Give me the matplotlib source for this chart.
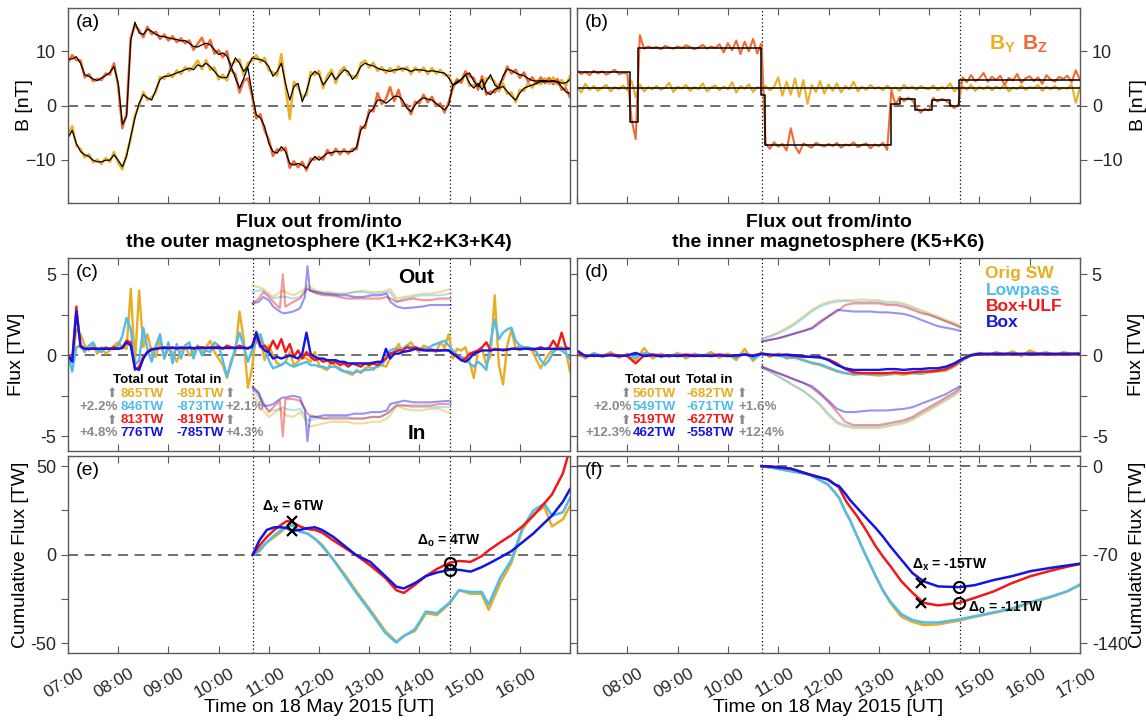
import numpy as np
import matplotlib
matplotlib.use("Agg")
import matplotlib.pyplot as plt
import matplotlib.transforms as mtransforms

plt.rcParams['font.family'] = ['Liberation Sans', 'DejaVu Sans']
plt.rcParams['mathtext.fontset'] = 'custom'
plt.rcParams['mathtext.rm'] = 'Liberation Sans'
plt.rcParams['mathtext.bf'] = 'Liberation Sans:bold'
plt.rcParams['mathtext.it'] = 'Liberation Sans:italic'

# ---------------- data (hours UT, 5-min samples from 07:00 unless noted) ----------------
# panel (a): IMF By / Bz, raw and smoothed
by_raw_a = [-5.5, -3.8, -7.4, -8.0, -9.6, -9.0, -10.5, -10.0, -10.8, -9.7, -10.4, -8.6,
            -10.6, -11.8, -8.9, -6.2, -1.8, 0.0, 2.5, 1.0, 1.5, 2.4, 5.3, 4.9,
            5.9, 5.2, 6.5, 5.8, 7.1, 6.4, 7.2, 8.3, 6.7, 8.4, 6.6, 7.0,
            4.8, 5.7, 4.6, 7.6, 8.1, 8.5, 5.6, 7.9, 8.2, 9.3, 8.0, 8.8,
            6.5, 6.1, 5.5, 9.5, 3.4, -2.5, 4.4, 3.3, 1.5, 1.9, 6.2, 5.6,
            6.4, 3.2, 5.5, 6.6, 4.1, 6.3, 7.1, 5.7, 5.4, 5.1, 7.8, 8.3,
            7.0, 7.9, 6.4, 7.1, 6.0, 6.9, 6.1, 7.2, 6.4, 7.1, 5.8, 7.0,
            6.2, 7.0, 5.8, 6.9, 5.9, 6.6, 5.6, 5.6, 3.3, 4.9, 4.3, 6.2,
            3.6, 3.8, 3.5, 3.6, 5.0, 5.1, 4.4, 2.6, 4.1, 2.1, 2.4, 0.6,
            2.9, 2.7, 4.1, 3.3, 4.6, 3.9, 5.0, 4.0, 5.2, 3.9, 4.7, 3.6,
            5.4]
by_fit_a = [-6.0, -4.6, -7.0, -8.5, -9.1, -9.4, -10.1, -10.4, -10.4, -10.1, -10.1, -9.1,
            -10.1, -11.3, -9.4, -5.7, -2.3, 0.4, 2.0, 1.4, 1.0, 2.9, 4.8, 5.4,
            5.4, 5.7, 6.0, 6.3, 6.6, 6.9, 6.6, 7.5, 7.2, 7.8, 7.2, 6.3,
            5.4, 5.1, 5.2, 6.9, 8.8, 7.8, 6.3, 7.2, 8.8, 8.6, 8.5, 8.1,
            7.2, 5.4, 6.3, 7.8, 4.1, 1.0, 3.5, 4.1, 0.7, 2.6, 5.4, 6.3,
            5.7, 3.8, 4.8, 6.0, 4.8, 5.7, 6.6, 6.3, 4.8, 5.7, 7.2, 7.8,
            7.5, 7.3, 6.9, 6.6, 6.5, 6.3, 6.6, 6.6, 6.9, 6.6, 6.3, 6.6,
            6.6, 6.5, 6.3, 6.4, 6.3, 6.1, 6.0, 5.1, 3.8, 4.4, 4.8, 5.7,
            4.1, 3.2, 4.1, 2.9, 4.4, 5.7, 3.8, 3.2, 3.5, 2.6, 1.7, 1.0,
            2.3, 3.2, 3.5, 3.8, 4.1, 4.4, 4.4, 4.4, 4.6, 4.4, 4.1, 4.2,
            4.8]
bz_raw_a = [8.0, 9.3, 8.4, 8.3, 5.2, 5.8, 4.5, 4.9, 4.7, 5.9, 5.7, 7.8,
            3.6, -4.2, -1.5, 12.5, 14.8, 13.9, 12.6, 14.5, 13.2, 13.6, 12.3, 13.1,
            12.0, 12.8, 11.7, 12.4, 11.5, 12.0, 10.3, 11.4, 12.5, 10.6, 12.1, 9.6,
            10.2, 8.9, 10.0, 6.5, 5.8, 2.4, 4.6, 5.0, 1.8, -2.4, -1.6, -4.6,
            -6.3, -9.3, -8.1, -8.3, -7.8, -11.5, -10.3, -11.4, -10.4, -12.0, -9.8, -10.0,
            -9.5, -10.0, -8.2, -9.2, -8.0, -9.0, -8.1, -8.9, -8.0, -8.1, -3.9, -4.2,
            -0.8, -1.1, 2.3, 0.3, 1.2, 3.4, 0.8, 2.9, 0.2, 0.1, -1.6, 0.7,
            0.4, 2.0, 0.6, 1.6, -0.1, 0.4, -1.3, 0.6, 3.2, 4.8, 4.2, 6.3,
            5.4, 5.1, 2.9, 5.4, 2.0, 2.6, 2.4, 3.8, 4.9, 7.2, 5.9, 6.6,
            5.1, 6.1, 4.4, 5.2, 4.0, 5.2, 4.1, 5.1, 3.9, 4.9, 2.9, 3.2,
            1.5]
bz_fit_a = [8.5, 8.6, 9.0, 7.8, 5.7, 5.4, 4.9, 4.6, 5.1, 5.5, 6.1, 7.2,
            4.1, -3.5, -2.0, 12.0, 15.4, 13.4, 13.1, 14.1, 13.7, 13.1, 12.8, 12.7,
            12.5, 12.3, 12.2, 11.9, 12.0, 11.5, 10.9, 10.8, 11.2, 11.5, 11.2, 10.3,
            9.4, 9.7, 9.1, 7.2, 5.1, 3.2, 5.0, 7.0, 2.3, -1.7, -2.3, -3.9,
            -7.0, -8.5, -8.8, -7.6, -8.5, -10.7, -11.0, -10.7, -11.0, -11.6, -10.4, -9.4,
            -10.1, -9.4, -8.8, -8.7, -8.5, -8.5, -8.5, -8.5, -8.5, -7.6, -4.5, -3.6,
            -1.4, -0.5, 1.0, 1.0, 0.4, 1.0, 1.7, 1.7, 1.0, -0.5, -1.1, 0.1,
            1.0, 1.4, 1.2, 1.0, 0.4, -0.2, -0.8, 0.1, 3.8, 4.1, 4.8, 5.7,
            6.0, 4.5, 3.5, 4.8, 2.5, 2.0, 3.0, 3.2, 5.5, 6.7, 6.5, 6.0,
            5.7, 5.5, 5.0, 4.6, 4.5, 4.6, 4.6, 4.5, 4.5, 4.3, 3.5, 2.5,
            2.2]

# panel (b): box-shaped driver
by_raw_b = [3.5, 2.4, 4.0, 2.9, 3.6, 2.7, 3.3, 3.8, 2.6, 3.4, 3.0, 3.7,
            2.8, 4.6, 1.5, 3.9, 2.6, 3.4, 3.0, 3.6, 2.9, 3.3, 4.2, 2.5,
            3.5, 3.1, 3.8, 2.7, 3.4, 3.0, 4.1, 2.6, 3.3, 3.7, 2.8, 3.5,
            3.0, 4.3, 2.4, 3.6, 3.1, 3.9, 2.5, 3.4, 3.2, 3.6, 2.8, 3.4,
            5.2, 1.8, 4.4, 2.0, 5.0, 1.6, 4.7, 0.3, 3.8, 2.5, 4.5, 2.2,
            3.9, 2.7, 4.1, 2.4, 3.6, 3.0, 4.4, 2.6, 3.5, 2.9, 3.8, 3.1,
            3.4, 2.8, 3.7, 3.0, 3.3, 2.7, 3.8, 3.1, 3.5, 2.9, 3.6, 3.2,
            3.0, 3.7, 2.8, 3.4, 3.1, 4.1, 2.6, 3.3, 3.5, 2.9, 3.8, 2.7,
            3.4, 3.0, 3.6, 2.8, 3.5, 3.1, 3.9, 2.6, 3.3, 3.0, 3.7, 2.9,
            3.4, 3.2, 3.8, 2.7, 3.5, 3.0, 3.6, 2.9, 3.3, 3.1, 3.9, 0.5,
            3.4]
bz_raw_b = [6.5, 5.8, 6.2, 5.6, 6.4, 5.9, 6.3, 5.7, 6.1, 6.6, 5.8, 6.0, 5.9,
            -2.5, -6.2, 13.0,
            10.5, 10.9, 10.6, 10.8, 10.4, 11.0, 10.7, 10.5, 10.9, 10.6, 11.1, 10.8, 10.4, 10.7,
            11.2, 10.5, 10.9, 10.6, 11.3, 9.8, 11.5, 10.2, 12.0, 9.5, 11.8, 10.0, 12.3, 9.6, 11.5,
            -7.0, -8.0, -6.8, -7.6, -7.1, -8.3, -4.2, -7.5, -8.8, -7.0, -7.4, -7.8, -6.9, -7.3, -7.6,
            -7.1, -7.5, -6.9, -7.8, -7.2, -7.4, -6.8, -7.7, -7.3, -7.0, -7.9, -7.2, -7.5, -6.9, -8.2,
            2.8, 0.1, 1.6, 0.8, 1.4, 1.0, -0.4, -1.3, -0.6, -0.9, 1.4, 0.7, 1.2, 0.9, 0.3, -0.5, 0.2,
            5.2, 4.3, 5.6, 4.5, 5.0, 6.0, 4.4, 5.3, 4.7, 5.5, 3.8, 5.1, 4.6, 5.8, 4.2,
            5.0, 5.4, 4.5, 5.2, 4.0, 5.6, 4.8, 4.4, 5.3, 4.9, 5.5, 4.3, 6.5, 4.7]
box_t = [7.0, 8.06, 8.22, 10.66, 10.73, 13.25, 13.42, 13.72, 14.05, 14.42, 14.60, 17.0]
box_bz = [6.1, -3.1, 10.7, 2.0, -7.3, 0.3, 1.2, -0.8, 1.0, 0.0, 4.8, 4.8]
box_by = [3.2, 3.2]

# panel (c): flux through outer magnetosphere
orig_c = [0.0, -0.4, 1.6, 1.3, 0.6, 0.3, 0.7, 0.1, 0.5, 0.1, 0.3, 0.6,
          0.8, 0.5, 0.4, 4.1, -0.5, 4.0, 0.5, 1.3, 0.2, -0.1, 1.0, -0.2,
          0.4, 0.2, -0.4, 0.3, 0.6, 0.0, 0.2, 0.6, 0.2, 0.5, 0.9, 0.2,
          -0.2, -0.6, -1.4, -0.3, 0.2, 2.7, 1.0, -2.0, -0.8, 1.5, 1.0, -0.3,
          0.6, 0.0, -0.5, -0.6, -0.4, 0.2, -0.6, -0.4, -0.1, -0.2, -0.4, 0.2,
          -0.6, -0.8, -0.9, -0.3, -0.7, -0.8, -1.0, -1.1, -1.2, -0.9, -1.1, -0.8,
          -0.7, -0.9, -0.6, -0.6, -0.7, -0.2, 0.2, 0.7, 0.2, 0.6, 0.8, 0.4,
          0.2, 0.6, 0.5, 0.3, 0.2, 0.8, 0.5, 1.3, -0.2, 0.4, 0.3, 0.5,
          -0.4, -1.4, 0.2, 0.4, -0.6, 0.0, 3.7, -0.6, -1.8, 0.6, 1.6, 0.4,
          0.6, 0.4, 0.4, 0.3, -0.3, -0.8, -0.3, 0.1, 0.4, 0.5, 0.5, 0.3,
          -1.0]
lowp_c = [0.0, -1.0, 0.5, 0.6, 0.2, 0.6, 0.8, 0.3, 0.2, 0.5, 0.4, 0.4,
          0.6, 1.2, 2.3, 1.6, -0.6, -0.3, 1.7, 0.4, -0.4, 0.6, 1.3, -0.2,
          0.8, -0.5, 0.7, -0.2, 0.6, 0.8, -0.2, 0.6, 0.0, 0.3, 0.2, 0.8,
          0.6, -0.3, -1.3, -0.5, 0.5, 1.4, 0.6, -0.4, 0.3, 0.8, 1.3, 0.4,
          -0.3, -0.8, -0.7, -0.6, -0.4, -0.6, -0.7, -0.6, -0.5, -0.4, -0.6, -0.6,
          -0.7, -0.7, -0.8, -0.7, -0.7, -0.9, -1.0, -1.0, -1.1, -1.0, -1.0, -0.9,
          -0.9, -0.8, -0.7, -0.6, -0.2, 0.3, 0.4, 0.4, 0.4, 0.6, 0.5, 0.5,
          0.4, 0.4, 0.4, 0.6, 0.7, 0.8, 0.9, 0.6, 0.3, 0.0, -0.1, -0.2,
          -0.5, -0.7, -0.4, -0.6, -0.9, 0.8, 2.2, 1.0, 1.4, 1.6, 1.7, 0.9,
          0.6, 0.5, 0.5, 0.4, 0.2, -0.3, -0.6, -0.3, 0.2, 0.4, 0.3, 0.1,
          -0.2]
ulf_c = [0.0, -0.3, 3.0, 0.5, 0.4, 0.4, 0.45, 0.4, 0.4, 0.45, 0.4, 0.5,
         0.4, 0.5, 0.9, 0.8, -0.9, -0.7, -0.1, 0.2, 0.4, 0.4, 0.45, 0.5,
         0.45, 0.5, 0.4, 0.5, 0.45, 0.5, 0.4, 0.5, 0.5, 0.45, 0.5, 0.5,
         0.55, 0.4, 0.6, 0.5, 0.45, 0.6, 0.5, 0.4, 0.6, 1.2, 0.5, 0.6,
         0.3, 0.9, 0.4, 1.0, 0.2, 0.7, -0.1, 0.3, -0.2, 0.2, -0.1, -0.3,
         -0.2, -0.4, -0.3, -0.5, -0.4, -0.6, -0.5, -0.7, -0.5, -0.6, -0.7, -0.5,
         -0.6, -0.5, -0.6, -0.4, -0.2, 0.1, 0.2, 0.3, 0.3, 0.5, 0.4, 0.5,
         0.4, 0.35, 0.3, 0.35, 0.3, 0.3, 0.35, 0.3, 0.1, 0.0, -0.3, -0.2,
         0.1, 0.2, 0.3, 0.5, 0.8, 0.3, 0.4, 0.35, 0.3, 0.35, 0.4, 0.4,
         0.35, 0.4, 0.4, 0.35, 0.4, 0.5, 0.4, 0.45, 0.9, 0.5, 1.4, 0.5,
         0.4]
box_c = [0.0, -0.4, 2.7, 0.6, 0.4, 0.4, 0.4, 0.4, 0.4, 0.4, 0.4, 0.4,
         0.4, 0.45, 0.8, 0.6, -0.8, -0.9, -0.2, 0.2, 0.35, 0.4, 0.45, 0.45,
         0.45, 0.45, 0.45, 0.45, 0.45, 0.45, 0.45, 0.45, 0.45, 0.45, 0.45, 0.45,
         0.45, 0.45, 0.45, 0.45, 0.45, 0.45, 0.45, 0.45, 0.5, 1.4, 0.6, 0.3,
         0.2, -0.2, -0.1, -0.2, -0.1, 0.0, -0.1, -0.2, 0.1, 1.4, 0.1, -0.1,
         -0.2, -0.2, -0.3, -0.3, -0.3, -0.4, -0.4, -0.5, -0.5, -0.5, -0.5, -0.5,
         -0.5, -0.45, -0.4, -0.4, 0.4, -0.2, 0.1, 0.1, 0.2, 0.25, 0.3, 0.4,
         0.35, 0.3, 0.3, 0.3, 0.3, 0.3, 0.3, 0.3, 0.1, -0.1, -0.3, -0.4,
         -0.2, 0.1, 0.2, 0.3, 0.3, 0.3, 0.35, 0.35, 0.35, 0.35, 0.4, 0.4,
         0.4, 0.4, 0.4, 0.4, 0.4, 0.4, 0.4, 0.4, 0.4, 0.4, 0.4, 0.4,
         0.4]
# outward / inward parts (c), irregular times
t_io_c = [10.68, 10.80, 10.89, 11.00, 11.09, 11.22, 11.28, 11.33, 11.49, 11.62,
          11.72, 11.77, 11.82, 11.95, 12.10, 12.22, 12.40, 12.55, 12.70, 12.88,
          13.05, 13.22, 13.35, 13.42, 13.55, 13.70, 13.88, 14.05, 14.21, 14.40, 14.62]
out_orig_c = [4.3, 4.2, 4.1, 3.8, 3.6, 3.9, 4.0, 3.9, 3.7, 3.9, 4.1, 4.3, 4.2, 4.0, 3.9, 3.9,
              3.8, 3.8, 3.9, 4.0, 3.9, 3.9, 4.0, 4.1, 3.5, 3.6, 3.7, 3.8, 3.8, 3.9, 4.1]
out_lowp_c = [3.9, 4.0, 4.0, 3.7, 3.5, 3.6, 3.6, 3.6, 3.5, 3.6, 4.0, 4.1, 4.0, 3.9, 3.8, 3.7,
              3.8, 3.8, 3.9, 3.9, 3.8, 3.8, 3.9, 3.9, 3.3, 3.5, 3.6, 3.7, 3.7, 3.7, 3.8]
out_ulf_c = [3.2, 3.5, 3.9, 3.6, 3.3, 2.9, 5.0, 3.0, 3.3, 3.5, 3.9, 4.1, 4.0, 3.8, 3.7, 3.7,
             3.6, 3.5, 3.5, 3.5, 3.5, 3.5, 3.6, 3.5, 3.3, 3.4, 3.5, 3.4, 3.4, 3.5, 3.5]
out_box_c = [3.2, 3.3, 3.6, 3.4, 3.0, 2.7, 2.6, 2.6, 2.7, 2.9, 3.6, 5.5, 4.0, 3.9, 3.8, 3.8,
             3.7, 3.7, 3.6, 3.6, 3.7, 3.7, 3.8, 3.3, 3.0, 2.9, 2.95, 3.0, 3.1, 3.1, 3.1]
in_orig_c = [-2.4, -3.0, -3.4, -3.8, -3.6, -3.3, -3.5, -3.7, -3.8, -3.5, -3.9, -4.3, -4.4, -4.3, -4.2, -4.1,
             -4.1, -4.1, -4.2, -4.2, -4.1, -4.1, -3.9, -3.7, -3.1, -3.3, -3.4, -3.4, -3.3, -3.3, -3.6]
in_lowp_c = [-2.1, -2.6, -3.1, -3.4, -3.4, -3.3, -3.2, -3.3, -3.4, -3.3, -3.7, -4.0, -4.0, -3.9, -3.9, -3.8,
             -3.8, -3.8, -3.9, -3.9, -3.8, -3.8, -3.6, -3.5, -3.0, -3.1, -3.2, -3.2, -3.2, -3.2, -3.2]
in_ulf_c = [-1.9, -2.4, -2.9, -3.5, -3.2, -2.8, -5.0, -2.7, -2.7, -2.8, -3.3, -3.6, -3.7, -3.8, -3.9, -3.9,
            -3.9, -3.9, -3.9, -3.9, -3.8, -3.8, -3.6, -3.4, -3.1, -3.1, -3.1, -3.1, -3.1, -3.0, -3.0]
in_box_c = [-2.0, -2.3, -3.1, -3.1, -3.0, -2.7, -2.6, -2.6, -2.5, -2.6, -3.4, -5.3, -3.8, -3.8, -3.7, -3.7,
            -3.7, -3.7, -3.6, -3.6, -3.5, -3.5, -3.4, -3.0, -2.9, -2.8, -2.9, -2.9, -2.9, -2.85, -2.8]

# panel (d): flux through inner magnetosphere (10-min samples from 07:00)
orig_d = [0.2, -0.2, 0.15, -0.1, 0.2, -0.15, 0.1, -0.3, 0.45, -0.2, 0.1, -0.1,
          0.15, -0.2, 0.1, -0.05, 0.2, -0.15, 0.1, -0.3, 0.4, -0.35, 0.2, -0.1,
          0.1, -0.2, -0.1, -0.3, -0.5, -0.6, -0.8, -1.0, -1.1, -1.2, -1.15, -1.2,
          -1.25, -1.2, -1.15, -1.2, -1.1, -1.15, -1.05, -1.0, -0.95, -0.7, -0.3, 0.05,
          0.15, 0.0, 0.2, 0.05, 0.25, -0.05, 0.3, 0.1, 0.2, 0.0, 0.2, 0.1, 0.15]
lowp_d = [0.0, -0.1, 0.1, 0.0, 0.05, -0.05, 0.0, -0.15, 0.15, 0.05, -0.1, 0.0,
          0.05, -0.05, 0.05, 0.0, 0.05, 0.0, 0.0, -0.15, 0.1, -0.2, 0.05, 0.0,
          0.0, -0.15, -0.15, -0.3, -0.45, -0.55, -0.75, -0.95, -1.1, -1.15, -1.15, -1.15,
          -1.15, -1.15, -1.1, -1.1, -1.1, -1.1, -1.0, -0.95, -0.9, -0.65, -0.3, 0.0,
          0.1, 0.05, 0.1, 0.05, 0.1, 0.05, 0.15, 0.05, 0.1, 0.05, 0.1, 0.05, 0.1]
ulf_d = [0.05, 0.0, -0.05, 0.0, 0.05, 0.0, -0.05, -0.5, 0.0, 0.05, 0.0, -0.05,
         0.0, 0.05, 0.0, -0.05, 0.0, 0.05, 0.0, -0.05, 0.05, 0.0, 0.1, 0.0,
         0.05, 0.0, -0.05, -0.1, -0.1, -0.15, -0.25, -0.5, -0.85, -1.05, -1.1, -1.1,
         -1.1, -1.1, -1.05, -1.1, -1.05, -1.0, -1.0, -0.95, -0.85, -0.6, -0.25, 0.0,
         0.05, 0.05, 0.05, 0.05, 0.05, 0.05, 0.05, 0.05, 0.05, 0.05, 0.05, 0.05, 0.05]
box_d = [0.3, -0.05, 0.0, -0.05, 0.0, -0.05, 0.0, 0.15, -0.05, 0.0, -0.05, 0.0,
         -0.05, 0.0, -0.05, 0.0, -0.05, 0.0, -0.05, 0.0, 0.05, -0.05, 0.1, 0.05,
         0.0, 0.05, 0.0, -0.05, -0.1, -0.1, -0.3, -0.6, -0.8, -0.9, -0.9, -0.9,
         -0.9, -0.85, -0.85, -0.9, -0.85, -0.85, -0.8, -0.8, -0.7, -0.5, -0.2, 0.0,
         0.1, 0.1, 0.1, 0.1, 0.1, 0.1, 0.1, 0.1, 0.1, 0.1, 0.1, 0.1, 0.1]
t_io_d = [10.68, 10.83, 11.00, 11.17, 11.33, 11.50, 11.67, 11.83, 12.00, 12.17, 12.33, 12.50, 12.67,
          12.83, 13.00, 13.17, 13.33, 13.50, 13.67, 13.83, 14.00, 14.17, 14.33, 14.50, 14.62]
out_orig_d = [1.0, 1.2, 1.4, 1.7, 2.0, 2.4, 2.8, 3.1, 3.3, 3.4, 3.4, 3.4, 3.45,
              3.4, 3.4, 3.3, 3.3, 3.2, 3.0, 2.8, 2.6, 2.4, 2.2, 2.0, 1.8]
out_lowp_d = [1.0, 1.15, 1.35, 1.6, 1.9, 2.3, 2.7, 3.0, 3.2, 3.3, 3.35, 3.3, 3.3,
              3.3, 3.3, 3.2, 3.2, 3.1, 2.9, 2.7, 2.5, 2.3, 2.1, 1.9, 1.8]
out_ulf_d = [0.85, 0.95, 1.05, 1.2, 1.35, 1.5, 1.7, 2.1, 2.4, 2.7, 3.1, 3.2, 3.2,
             3.2, 3.2, 3.1, 3.1, 3.0, 2.8, 2.6, 2.5, 2.3, 2.1, 1.9, 1.7]
out_box_d = [0.85, 0.95, 1.05, 1.2, 1.35, 1.5, 1.65, 2.0, 2.4, 2.8, 2.75, 2.7, 2.7,
             2.7, 2.65, 2.65, 2.6, 2.55, 2.4, 2.2, 2.0, 1.8, 1.7, 1.6, 1.5]
in_orig_d = [-0.8, -1.0, -1.3, -1.6, -1.9, -2.2, -2.6, -3.1, -3.7, -4.2, -4.4, -4.5, -4.5,
             -4.5, -4.5, -4.4, -4.3, -4.2, -4.0, -3.7, -3.4, -3.1, -2.8, -2.5, -2.2]
in_lowp_d = [-0.8, -1.0, -1.3, -1.6, -1.9, -2.2, -2.6, -3.0, -3.6, -4.1, -4.3, -4.4, -4.4,
             -4.4, -4.4, -4.3, -4.2, -4.1, -3.9, -3.6, -3.3, -3.0, -2.7, -2.4, -2.1]
in_ulf_d = [-0.7, -0.9, -1.1, -1.3, -1.5, -1.7, -2.0, -2.4, -2.9, -3.5, -4.1, -4.3, -4.3,
            -4.3, -4.3, -4.2, -4.1, -4.0, -3.8, -3.5, -3.2, -2.9, -2.6, -2.3, -2.0]
in_box_d = [-0.7, -0.9, -1.1, -1.3, -1.5, -1.7, -1.9, -2.3, -2.8, -3.3, -3.5, -3.5, -3.45,
            -3.4, -3.4, -3.4, -3.35, -3.3, -3.2, -3.0, -2.8, -2.6, -2.4, -2.1, -1.9]

# panel (e): cumulative flux, outer
t_e = [10.68, 10.81, 10.96, 11.11, 11.25, 11.36, 11.47, 11.62, 11.77, 11.92, 12.06, 12.29,
       12.51, 12.73, 13.02, 13.32, 13.54, 13.69, 13.91, 14.13, 14.35, 14.60, 14.79, 15.02,
       15.24, 15.38, 15.61, 15.83, 16.05, 16.27, 16.49, 16.64, 16.86, 17.00]
cum_orig_e = [0, 3, 7, 10, 13, 16, 17, 13, 12, 9, 5.7, -2.8, -11, -20, -31, -43, -49, -45.6,
              -43, -33, -34, -27.5, -20, -22, -22, -31, -16, -4.7, 14, 23, 27, 16, 20, 27.5]
cum_lowp_e = [0, 2, 7, 11, 14, 16, 16.5, 13, 12, 9, 5, -3, -12, -21, -32, -44, -49.5, -46,
              -42, -32, -33, -27, -20, -21, -21, -28, -13, -3, 15, 25, 29, 22, 24, 32]
cum_ulf_e = [0, 5, 10, 14, 17, 19, 18.5, 16, 14.5, 14, 12.5, 8, 4, 0, -6, -13, -20, -21.5,
             -17, -12, -8, -4.5, -3.5, -4.0, -0.8, 2.5, 7, 11, 16, 22, 29, 34, 46, 60]
cum_box_e = [0, 8, 14, 15.5, 15.5, 15, 13.5, 14, 15, 15.5, 14, 10, 5, 0, -4, -12, -18, -19,
             -16, -12, -10, -8.5, -8.5, -9.5, -7, -5, -1.5, 2, 7, 12, 18, 22, 30, 37]
mark_x_e = (11.47, [19, 13.3])
mark_o_e = (14.60, [-4.4, -8.6])

# panel (f): cumulative flux, inner
t_f = [10.67, 10.89, 11.25, 11.62, 11.99, 12.13, 12.21, 12.35, 12.42, 12.57, 12.72, 12.94, 13.08,
       13.23, 13.45, 13.67, 13.89, 14.18, 14.60, 14.91, 15.28, 15.64, 16.01, 16.38, 16.74, 17.00]
cum_orig_f = [0, -1.5, -4, -6.6, -14.5, -21, -25, -37, -42, -55.5, -68.7, -87, -98,
              -108, -119, -123, -125.5, -125, -122, -119, -116, -113, -108, -104, -99, -94]
cum_lowp_f = [0, -1.3, -4, -6.6, -14.5, -21, -25, -37, -42, -55.5, -68.7, -87, -98,
              -107, -117, -121.5, -123.5, -123.5, -121, -118.5, -115.5, -112.5, -107.5, -103.5, -99, -93.5]
cum_ulf_f = [0, -0.5, -2, -6.6, -10.6, -14.5, -17, -27.7, -31.7, -39.6, -48.9, -63.4, -71.3,
             -79, -91, -100, -108, -110, -108, -104, -99, -92.5, -87, -83, -79.5, -77.4]
cum_box_f = [0, -0.5, -2, -6.6, -10.6, -14.5, -15.8, -22.5, -26.4, -33, -39.6, -49, -55.5,
             -63.4, -74, -84.5, -91, -95, -95.6, -94, -90, -87, -83, -80.6, -78.5, -77]
mark_x_f = (13.84, [-92.5, -108])
mark_o_f = (14.60, [-95.6, -108])

# totals printed in panels (c) and (d)
tot_out_c = ["865TW", "846TW", "813TW", "776TW"]
tot_in_c = ["-891TW", "-873TW", "-819TW", "-785TW"]
pct_out_c = ["+2.2%", "+4.8%"]
pct_in_c = ["+2.1%", "+4.3%"]
tot_out_d = ["560TW", "549TW", "519TW", "462TW"]
tot_in_d = ["-682TW", "-671TW", "-627TW", "-558TW"]
pct_out_d = ["+2.0%", "+12.3%"]
pct_in_d = ["+1.6%", "+12.4%"]

series_names = ["Orig SW", "Lowpass", "Box+ULF", "Box"]
storm_marks = [10.68, 14.61]

# ---------------- styling ----------------
c_by = "#EBB024"
c_bz = "#F36A30"
cols = ["#E9AC22", "#4FBDEB", "#F21818", "#1414E4"]
gray_txt = "#8a8a8a"
frame = "#5a5a5a"

t5 = lambda v: 7 + np.arange(len(v)) / 12.0
t10 = lambda v: 7 + np.arange(len(v)) / 6.0

fig = plt.figure(figsize=(11.46, 7.23), dpi=100)
W, H = 1146.0, 723.0
def box(x0, x1, y0, y1):
    return [x0 / W, 1 - y1 / H, (x1 - x0) / W, (y1 - y0) / H]

axa = fig.add_axes(box(68, 570, 8, 203))
axb = fig.add_axes(box(577, 1080, 8, 203))
axc = fig.add_axes(box(68, 570, 258, 451))
axd = fig.add_axes(box(577, 1080, 258, 451))
axe = fig.add_axes(box(68, 570, 456, 653))
axf = fig.add_axes(box(577, 1080, 456, 653))


def style(ax, right=False):
    for s in ax.spines.values():
        s.set_color(frame)
        s.set_linewidth(1.0)
    ax.set_xlim(7, 17)
    ax.set_xticks(np.arange(7, 18))
    ax.tick_params(axis='x', direction='in', top=True, bottom=True, length=5,
                   width=0.8, color=frame, labelbottom=False)
    ax.tick_params(axis='y', direction='out', left=True, right=True, length=5,
                   width=0.8, color=frame, labelsize=13, labelcolor='#262626',
                   labelleft=not right, labelright=right)
    for tv in storm_marks:
        ax.axvline(tv, color='k', ls=(0, (1, 2)), lw=0.9, zorder=1)
    ax.axhline(0, color='#555555', ls=(0, (6, 4)), lw=1.2, zorder=1)
    if right:
        ax.yaxis.set_label_position('right')


for ax in (axa, axb, axc, axd, axe, axf):
    style(ax, right=ax in (axb, axd, axf))

# (a)
axa.plot(t5(by_raw_a), by_raw_a, color=c_by, lw=1.8)
axa.plot(t5(bz_raw_a), bz_raw_a, color=c_bz, lw=1.8)
axa.plot(t5(by_fit_a), by_fit_a, color='k', lw=0.9)
axa.plot(t5(bz_fit_a), bz_fit_a, color='k', lw=0.9)
# (b)
axb.plot(t5(by_raw_b), by_raw_b, color=c_by, lw=1.5)
axb.plot(t5(bz_raw_b), bz_raw_b, color=c_bz, lw=1.5)
axb.step([7.0, 17.0], box_by, where='post', color='k', lw=1.1)
axb.step(box_t, box_bz, where='post', color='k', lw=1.1)
for ax in (axa, axb):
    ax.set_ylim(-18, 18)
    ax.set_yticks([-10, 0, 10])
    ax.set_ylabel("B [nT]", fontsize=14)
axa.yaxis.set_label_coords(-0.07, 0.5)
axb.yaxis.set_label_coords(1.1, 0.5)
axb.text(15.2, 11.3, r"$\mathbf{B_Y}$", color=c_by, fontsize=15, va='center')
axb.text(15.85, 11.3, r"$\mathbf{B_Z}$", color=c_bz, fontsize=15, va='center')

# (c) and (d)
mids_c = [orig_c, lowp_c, ulf_c, box_c]
outs_c = [out_orig_c, out_lowp_c, out_ulf_c, out_box_c]
ins_c = [in_orig_c, in_lowp_c, in_ulf_c, in_box_c]
mids_d = [orig_d, lowp_d, ulf_d, box_d]
outs_d = [out_orig_d, out_lowp_d, out_ulf_d, out_box_d]
ins_d = [in_orig_d, in_lowp_d, in_ulf_d, in_box_d]
for i in range(4):
    axc.plot(t_io_c, outs_c[i], color=cols[i], lw=1.5, alpha=0.45)
    axc.plot(t_io_c, ins_c[i], color=cols[i], lw=1.5, alpha=0.45)
    axd.plot(t_io_d, outs_d[i], color=cols[i], lw=1.5, alpha=0.45)
    axd.plot(t_io_d, ins_d[i], color=cols[i], lw=1.5, alpha=0.45)
for i in range(4):
    axc.plot(t5(mids_c[i]), mids_c[i], color=cols[i], lw=1.7)
    axd.plot(t10(mids_d[i]), mids_d[i], color=cols[i], lw=1.7)

for ax, ttl in ((axc, "Flux out from/into\nthe outer magnetosphere (K1+K2+K3+K4)"),
                (axd, "Flux out from/into\nthe inner magnetosphere (K5+K6)")):
    ax.set_ylim(-5.9, 6.0)
    ax.set_yticks([-5, -2.5, 0, 2.5, 5])
    ax.set_yticklabels(['-5', '', '0', '', '5'])
    ax.set_ylabel("Flux [TW]", fontsize=14)
    ax.set_title(ttl, fontsize=14, fontweight='bold', pad=8)
axc.yaxis.set_label_coords(-0.085, 0.5)
axd.yaxis.set_label_coords(1.095, 0.5)
axc.text(13.93, 4.8, "Out", fontsize=15, fontweight='bold', ha='center', va='center')
axc.text(13.95, -4.8, "In", fontsize=15, fontweight='bold', ha='center', va='center')

for i, name in enumerate(series_names):
    axd.text(15.12, 5.03 - 1.01 * i, name, color=cols[i], fontsize=12.5,
             fontweight='bold', va='center')


def totals(ax, x_head, x_out, x_in, x_arr, x_pct, outs, ins, pouts, pins):
    rows = [-2.36, -3.17, -4.0, -4.8]
    kw = dict(fontsize=9.6, fontweight='bold', va='center')
    ax.text(x_head[0], -1.55, "Total out", color='k', **kw)
    ax.text(x_head[1], -1.55, "Total in", color='k', **kw)
    for i in range(4):
        ax.text(x_out, rows[i], outs[i], color=cols[i], **kw)
        ax.text(x_in, rows[i], ins[i], color=cols[i], **kw)
    for j in range(2):
        ya, yp = rows[2 * j], rows[2 * j + 1]
        ax.text(x_arr[0], ya, "\u2b06", color=gray_txt, fontsize=9, ha='center',
                va='center', family=['DejaVu Sans'])
        ax.text(x_arr[1], ya, "\u2b06", color=gray_txt, fontsize=9, ha='center',
                va='center', family=['DejaVu Sans'])
        ax.text(x_pct[0], yp, pouts[j], color=gray_txt, ha='right', **kw)
        ax.text(x_pct[1], yp, pins[j], color=gray_txt, ha='left', **kw)


totals(axc, (7.90, 9.13), 8.04, 9.17, (7.88, 10.23), (8.0, 10.13),
       tot_out_c, tot_in_c, pct_out_c, pct_in_c)
totals(axd, (7.95, 9.17), 8.11, 9.17, (7.97, 10.28), (8.09, 10.22),
       tot_out_d, tot_in_d, pct_out_d, pct_in_d)

# (e) and (f)
for i, v in enumerate([cum_orig_e, cum_lowp_e, cum_ulf_e, cum_box_e]):
    axe.plot(t_e, v, color=cols[i], lw=1.8)
for i, v in enumerate([cum_orig_f, cum_lowp_f, cum_ulf_f, cum_box_f]):
    axf.plot(t_f, v, color=cols[i], lw=1.8)
for ax, mx, mo in ((axe, mark_x_e, mark_o_e), (axf, mark_x_f, mark_o_f)):
    ax.plot([mx[0]] * 2, mx[1], 'x', color='k', ms=7, mew=1.6, zorder=5)
    ax.plot([mo[0]] * 2, mo[1], 'o', mfc='none', mec='k', ms=8, mew=1.5, zorder=5)

axe.set_ylim(-55.4, 55.7)
axe.set_yticks([-50, -25, 0, 25, 50])
axe.set_yticklabels(['-50', '', '0', '', '50'])
axf.set_ylim(-147.6, 8)
axf.set_yticks([-140, -105, -70, -35, 0])
axf.set_yticklabels(['-140', '', '-70', '', '0'])
shift = mtransforms.ScaledTranslation(8 / 72.0, 0, fig.dpi_scale_trans)
for ax in (axe, axf):
    ax.set_ylabel("Cumulative Flux [TW]", fontsize=14)
    ax.set_xlabel("Time on 18 May 2015 [UT]", fontsize=14)
    ax.xaxis.set_label_coords(0.5, -0.235)
    ax.tick_params(axis='x', labelbottom=True, labelsize=12.5, labelcolor='#262626', pad=9)
axe.yaxis.set_label_coords(-0.078, 0.5)
axf.yaxis.set_label_coords(1.097, 0.5)
axe.set_xticklabels(["%02d:00" % h for h in range(7, 17)] + [''])
axf.set_xticklabels([''] + ["%02d:00" % h for h in range(8, 18)])
for ax in (axe, axf):
    for lab in ax.get_xticklabels():
        lab.set_rotation(30)
        lab.set_ha('right')
        lab.set_va('top')
        lab.set_rotation_mode('anchor')
        lab.set_transform(lab.get_transform() + shift)

akw = dict(fontsize=10, fontweight='bold', va='center')
axe.text(10.86, 27.3, r"$\mathbf{\Delta_x}$ = 6TW", **akw)
axe.text(13.95, 8.1, r"$\mathbf{\Delta_o}$ = 4TW", **akw)
axf.text(13.66, -78, r"$\mathbf{\Delta_x}$ = -15TW", **akw)
axf.text(14.77, -112, r"$\mathbf{\Delta_o}$ = -11TW", **akw)

# panel letters
for ax, lab in zip((axa, axb, axc, axd, axe, axf), "abcdef"):
    ax.text(0.016, 0.925, "(%s)" % lab, transform=ax.transAxes, fontsize=14,
            va='center', ha='left')

fig.savefig("out.png", dpi=100)
